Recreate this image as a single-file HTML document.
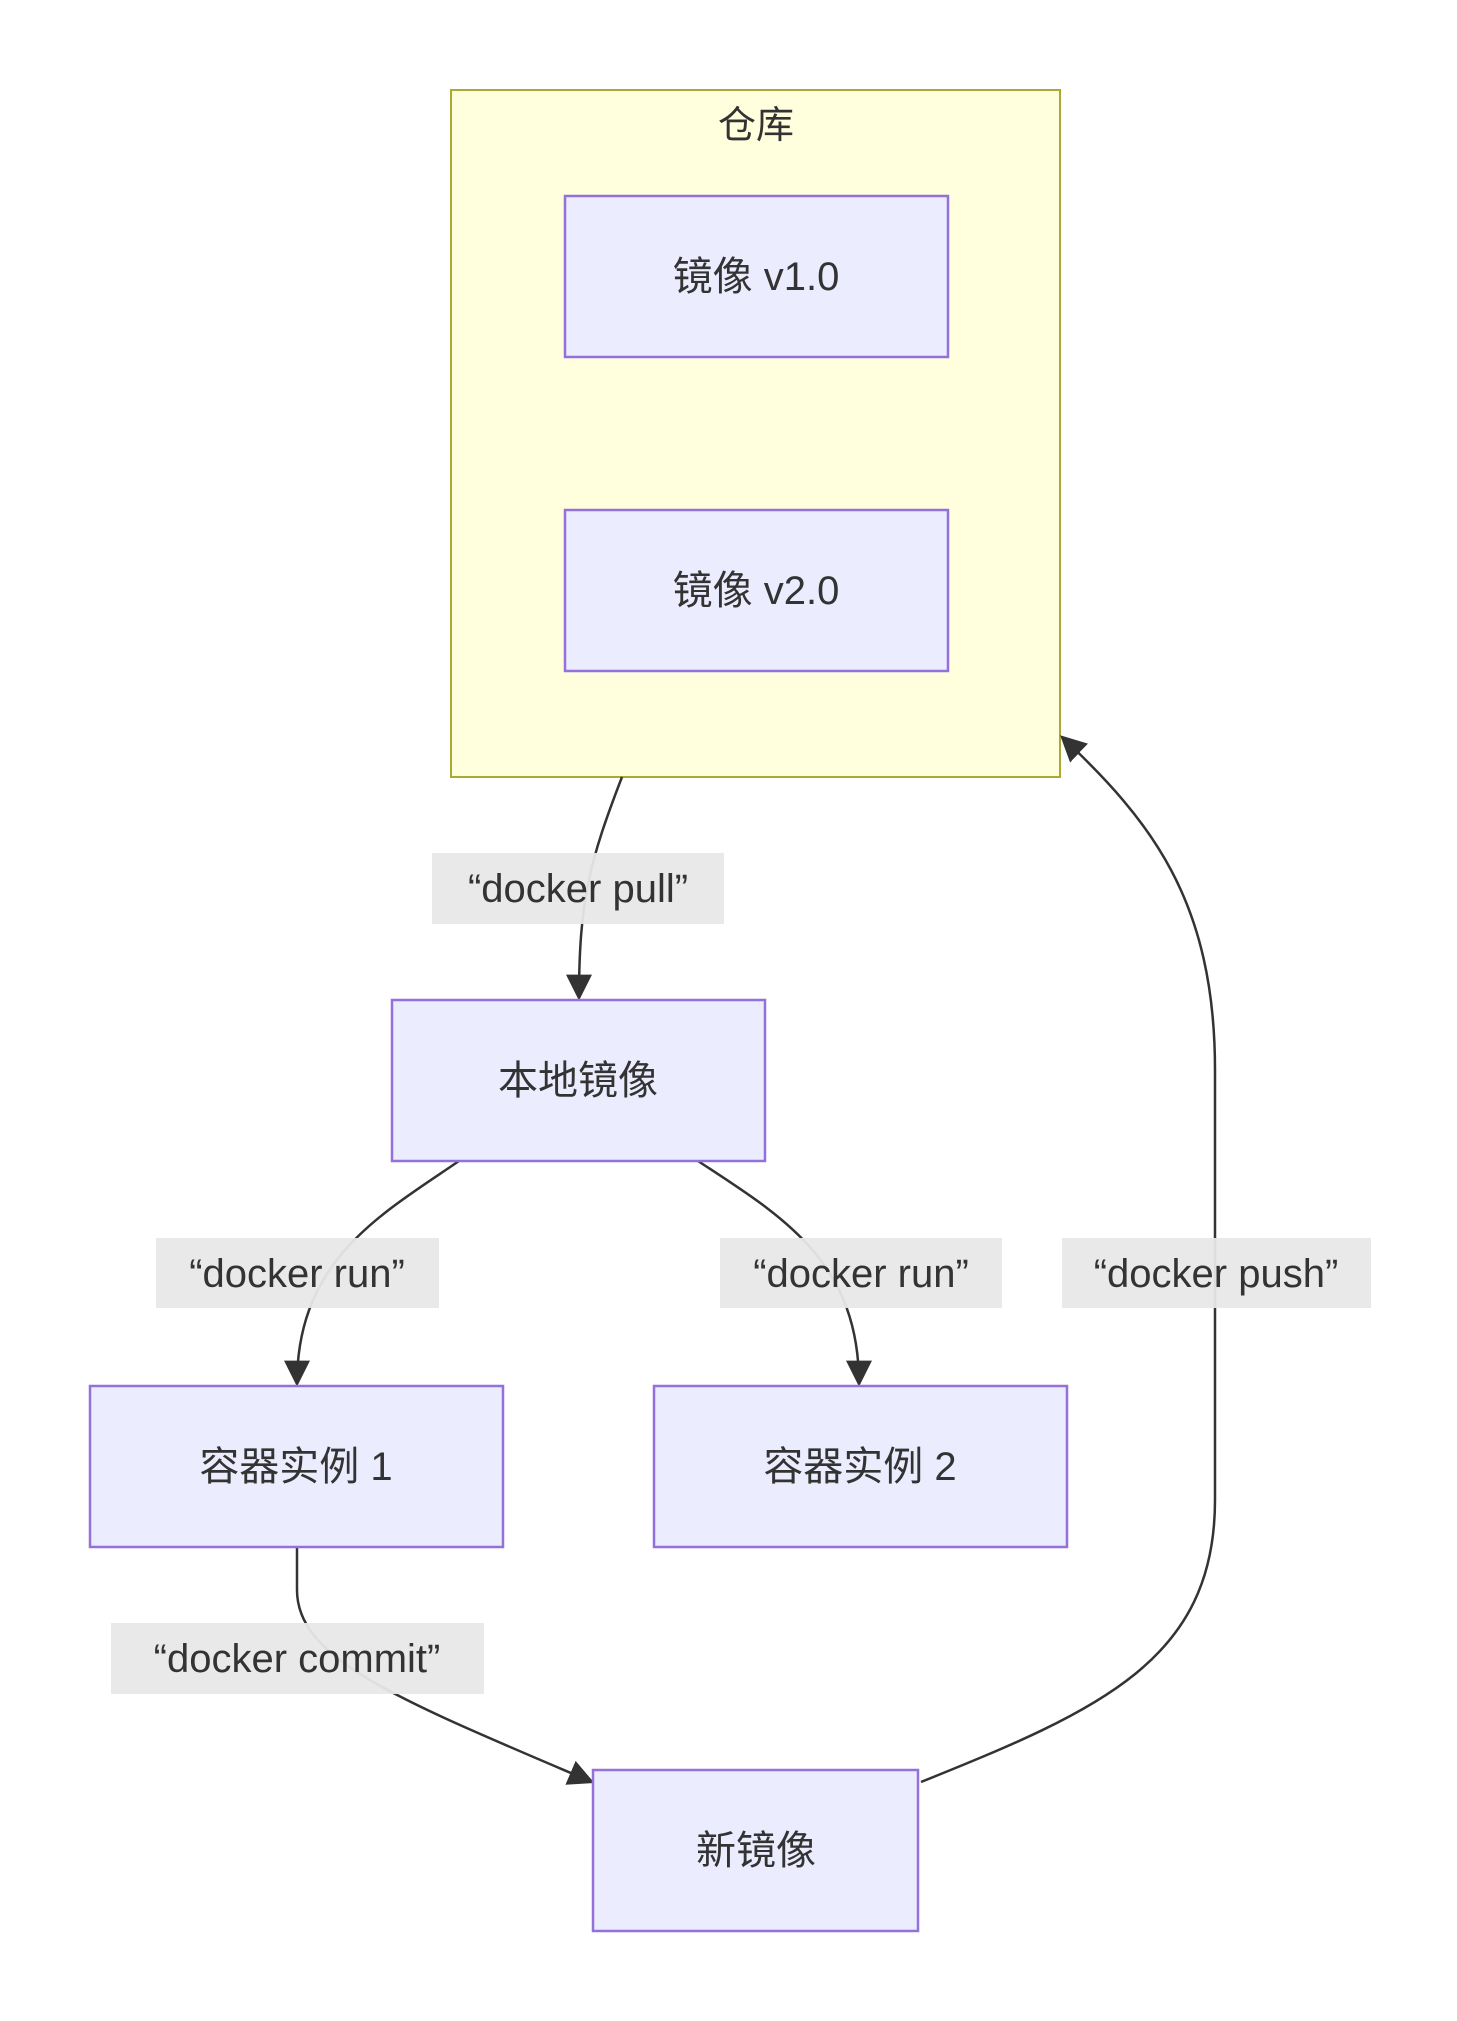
<!DOCTYPE html>
<html><head><meta charset="utf-8"><style>
html,body{margin:0;padding:0;background:#fff;}
svg text{font-family:"Liberation Sans","Noto Sans CJK SC",sans-serif;fill:#333;}
</style></head><body>
<svg width="1457" height="2016" viewBox="0 0 1457 2016" xmlns="http://www.w3.org/2000/svg">
<defs><marker id="a" viewBox="0 0 10 10" refX="9" refY="5" markerWidth="8" markerHeight="8" markerUnits="userSpaceOnUse" orient="auto"><path d="M0,0L10,5L0,10z" fill="#333"/></marker>
<marker id="b" viewBox="0 0 10 10" refX="9" refY="5" markerWidth="26" markerHeight="26" markerUnits="userSpaceOnUse" orient="auto"><path d="M0,0L10,5L0,10z" fill="#333"/></marker></defs>
<rect x="451" y="90" width="609" height="687" fill="#ffffde" stroke="#aaaa33" stroke-width="2"/>
<text x="756" y="138" font-size="38" text-anchor="middle">仓库</text>
<g fill="none" stroke="#333" stroke-width="2.5">
<path d="M622,777 C590,860 579,900 579,998" marker-end="url(#b)"/>
<path d="M459,1161 C380,1215 297,1260 297,1384" marker-end="url(#b)"/>
<path d="M698,1161 C780,1215 859,1260 859,1384" marker-end="url(#b)"/>
<path d="M297,1547 L297,1590 C297,1660 400,1700 592,1782" marker-end="url(#b)"/>
<path d="M921,1782 C1100,1710 1215,1660 1215,1500 L1215,1070 C1215,900 1150,820 1062,737" marker-end="url(#b)"/>
</g>
<g fill="#ececff" stroke="#9370db" stroke-width="2.5">
<rect x="565" y="196" width="383" height="161"/>
<rect x="565" y="510" width="383" height="161"/>
<rect x="392" y="1000" width="373" height="161"/>
<rect x="90" y="1386" width="413" height="161"/>
<rect x="654" y="1386" width="413" height="161"/>
<rect x="593" y="1770" width="325" height="161"/>
</g>
<g font-size="40" text-anchor="middle">
<text x="756" y="290">镜像 v1.0</text>
<text x="756" y="604">镜像 v2.0</text>
<text x="578" y="1094">本地镜像</text>
<text x="296" y="1480">容器实例 1</text>
<text x="860" y="1480">容器实例 2</text>
<text x="756" y="1864">新镜像</text>
</g>
<g fill="#e8e8e8" opacity="0.95">
<rect x="432" y="853" width="292" height="71"/>
<rect x="156" y="1238" width="283" height="70"/>
<rect x="720" y="1238" width="282" height="70"/>
<rect x="1062" y="1238" width="309" height="70"/>
<rect x="111" y="1623" width="373" height="71"/>
</g>
<g font-size="40" text-anchor="middle">
<text x="578" y="902">“docker pull”</text>
<text x="297" y="1287">“docker run”</text>
<text x="861" y="1287">“docker run”</text>
<text x="1216" y="1287">“docker push”</text>
<text x="297" y="1672">“docker commit”</text>
</g>
</svg>
</body></html>
